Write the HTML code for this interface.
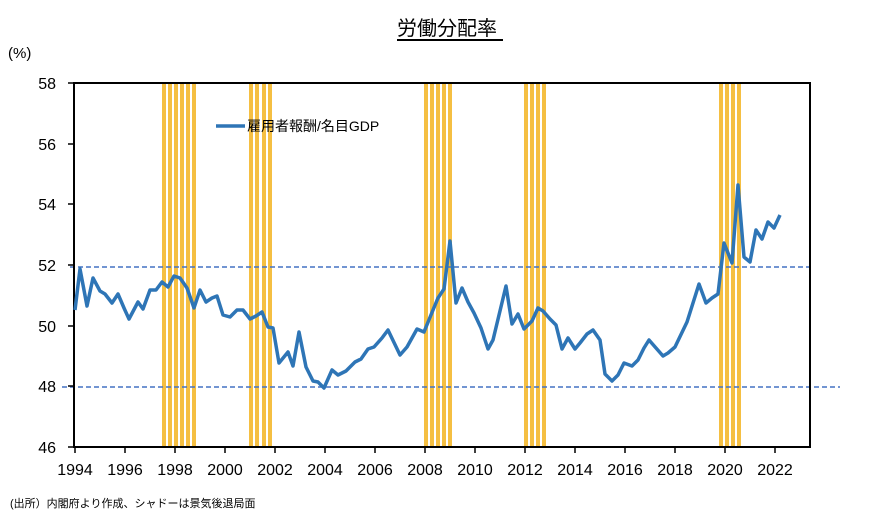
<!DOCTYPE html>
<html><head><meta charset="utf-8"><style>
html,body{margin:0;padding:0;background:#fff;}
svg{display:block;font-family:"Liberation Sans","Noto Sans CJK JP",sans-serif;}
</style></head><body>
<svg width="880" height="524" viewBox="0 0 880 524" xmlns="http://www.w3.org/2000/svg">
<rect width="880" height="524" fill="#fff"/>
<text x="447" y="35" font-size="20" text-anchor="middle" fill="#000" font-family="Liberation Sans, Noto Sans CJK JP, sans-serif">労働分配率</text>
<line x1="397" y1="40" x2="503" y2="40" stroke="#000" stroke-width="2"/>
<text x="8" y="58" font-size="15" fill="#000">(%)</text>
<g fill="#F5BF42">
<rect x="162" y="83" width="4" height="364"/><rect x="168" y="83" width="4" height="364"/><rect x="174" y="83" width="4" height="364"/><rect x="180" y="83" width="4" height="364"/><rect x="186" y="83" width="4" height="364"/><rect x="192" y="83" width="4" height="364"/>
<rect x="249" y="83" width="4" height="364"/><rect x="255" y="83" width="4" height="364"/><rect x="262" y="83" width="4" height="364"/><rect x="268" y="83" width="4" height="364"/>
<rect x="424" y="83" width="4" height="364"/><rect x="430" y="83" width="4" height="364"/><rect x="436" y="83" width="4" height="364"/><rect x="442" y="83" width="4" height="364"/><rect x="448" y="83" width="4" height="364"/>
<rect x="524" y="83" width="4" height="364"/><rect x="530" y="83" width="4" height="364"/><rect x="536" y="83" width="4" height="364"/><rect x="542" y="83" width="4" height="364"/>
<rect x="719" y="83" width="4" height="364"/><rect x="725" y="83" width="4" height="364"/><rect x="731" y="83" width="4" height="364"/><rect x="737" y="83" width="4" height="364"/>
</g>
<line x1="70" y1="267" x2="809" y2="267" stroke="#4472C4" stroke-width="1.6" stroke-dasharray="5,3"/>
<line x1="62" y1="387" x2="840" y2="387" stroke="#4472C4" stroke-width="1.6" stroke-dasharray="5,3"/>
<rect x="74" y="83" width="736" height="364" fill="none" stroke="#000" stroke-width="2"/>
<g stroke="#000" stroke-width="1.5">
<line x1="68" y1="83" x2="74" y2="83"/><line x1="68" y1="144" x2="74" y2="144"/><line x1="68" y1="204" x2="74" y2="204"/><line x1="68" y1="265" x2="74" y2="265"/><line x1="68" y1="326" x2="74" y2="326"/><line x1="68" y1="386" x2="74" y2="386"/><line x1="68" y1="447" x2="74" y2="447"/>
<line x1="75" y1="447" x2="75" y2="453"/><line x1="125" y1="447" x2="125" y2="453"/><line x1="175" y1="447" x2="175" y2="453"/><line x1="225" y1="447" x2="225" y2="453"/><line x1="275" y1="447" x2="275" y2="453"/><line x1="325" y1="447" x2="325" y2="453"/><line x1="375" y1="447" x2="375" y2="453"/><line x1="425" y1="447" x2="425" y2="453"/><line x1="475" y1="447" x2="475" y2="453"/><line x1="525" y1="447" x2="525" y2="453"/><line x1="575" y1="447" x2="575" y2="453"/><line x1="625" y1="447" x2="625" y2="453"/><line x1="675" y1="447" x2="675" y2="453"/><line x1="725" y1="447" x2="725" y2="453"/><line x1="775" y1="447" x2="775" y2="453"/>
</g>
<g font-size="16" fill="#000" text-anchor="end">
<text x="56" y="89">58</text><text x="56" y="150">56</text><text x="56" y="210">54</text><text x="56" y="271">52</text><text x="56" y="332">50</text><text x="56" y="392">48</text><text x="56" y="453">46</text>
</g>
<g font-size="16" fill="#000" text-anchor="middle">
<text x="75" y="475">1994</text><text x="125" y="475">1996</text><text x="175" y="475">1998</text><text x="225" y="475">2000</text><text x="275" y="475">2002</text><text x="325" y="475">2004</text><text x="375" y="475">2006</text><text x="425" y="475">2008</text><text x="475" y="475">2010</text><text x="525" y="475">2012</text><text x="575" y="475">2014</text><text x="625" y="475">2016</text><text x="675" y="475">2018</text><text x="725" y="475">2020</text><text x="775" y="475">2022</text>
</g>
<polyline fill="none" stroke="#2E75B6" stroke-width="3.5" stroke-linejoin="round" points="75,310 80,269 87,306 93,278 100,291 105,294 112,303 118,294 124,308 129,319 138,302 143,309 150,290 156,290 162,282 168,287 174,276 180,278 187,288 194,308 200,290 206,302 212,298 217,296 223,315 230,317 237,310 243,310 250,319 256,316 262,312 268,327 273,328 279,363 288,352 293,366 299,332 306,367 313,381 318,382 324,388 332,370 338,375 346,371 355,362 361,359 368,349 374,347 382,338 388,330 400,355 407,347 417,329 424,332 433,310 438,298 444,289 450,241 456,303 462,288 468,302 474,313 481,328 488,349 493,340 506,286 512,324 518,314 524,329 532,321 538,308 543,311 550,319 556,325 562,349 568,338 575,349 580,343 587,334 593,330 600,340 605,374 612,381 618,375 624,363 632,366 638,360 644,348 649,340 663,356 668,353 675,347 687,322 699,284 706,303 712,298 718,294 724,243 732,263 738,185 744,257 750,262 756,230 762,239 768,222 774,228 780,215"/>
<line x1="216" y1="126" x2="245" y2="126" stroke="#2E75B6" stroke-width="3.5"/>
<text x="247" y="131" font-size="14" fill="#000">雇用者報酬/名目GDP</text>
<text x="10" y="507" font-size="11" fill="#000">(出所）内閣府より作成、シャドーは景気後退局面</text>
</svg>
</body></html>
